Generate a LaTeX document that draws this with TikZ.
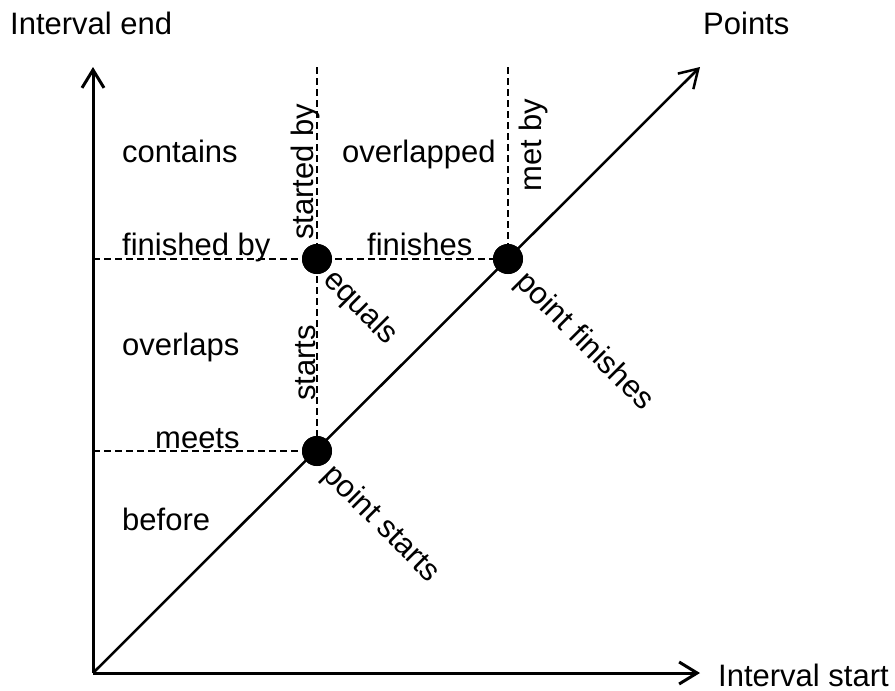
\documentclass[tikz,border=0pt]{standalone}
\usepackage{fontspec}
\setmainfont{Liberation Sans}
\usetikzlibrary{arrows.meta}
\begin{document}
\begin{tikzpicture}[x=1pt,y=-1pt,
  lbl/.style={inner sep=0pt, font=\fontsize{31}{37}\selectfont},
  axisline/.style={line width=3pt, -{Straight Barb[length=18pt,width=22pt]}},
  diagline/.style={line width=2.5pt, -{Straight Barb[length=18pt,width=22pt]}},
  guide/.style={line width=2pt, dash pattern=on 7pt off 4pt},
  dotnode/.style={circle, fill=black, minimum size=30pt, inner sep=0pt}]
\useasboundingbox (0,0) rectangle (895,691);
% coordinates
\coordinate (O) at (93,673);
\coordinate (Ytip) at (93,67);
\coordinate (Xtip) at (700,673);
\coordinate (Dtip) at (700,67);
\coordinate (Lhi) at (93,259);
\coordinate (Llo) at (93,451);
\coordinate (Tl) at (317,67);
\coordinate (Tr) at (508,67);
% dots
\node[dotnode] (eq) at (317,259) {};
\node[dotnode] (pf) at (508,259) {};
\node[dotnode] (ps) at (317,451) {};
% guides
\draw[guide] (Lhi) -- (eq.center) -- (pf.center);
\draw[guide] (Llo) -- (ps.center);
\draw[guide] (Tl) -- (eq.center) -- (ps.center);
\draw[guide] (Tr) -- (pf.center);
% axes
\draw[axisline] (O) -- (Ytip);
\draw[axisline] (O) -- (Xtip);
\draw[diagline] (O) -- (Dtip);
% redraw dots on top
\node[dotnode] at (eq) {};
\node[dotnode] at (pf) {};
\node[dotnode] at (ps) {};
% labels
\node[lbl, anchor=base west] (tye) at (10,34) {Interval end};
\node[lbl, anchor=base west] (tpt) at (703,34) {Points};
\node[lbl, anchor=base west] (txs) at (718,686) {Interval start};
\node[lbl, anchor=base west] (tcon) at (122,162) {contains};
\node[lbl, anchor=base west] (tovd) at (342,162) {overlapped};
\node[lbl, anchor=base west] (tfby) at (122,255) {finished by};
\node[lbl, anchor=base west] (tfin) at (367,255) {finishes};
\node[lbl, anchor=base west] (tovs) at (122,355) {overlaps};
\node[lbl, anchor=base west] (tmee) at (155,448) {meets};
\node[lbl, anchor=base west] (tbef) at (122,530) {before};
\node[lbl, anchor=base west, rotate=90] (tsby) at (313,240) {started by};
\node[lbl, anchor=base west, rotate=90] (tmby) at (541,192) {met by};
\node[lbl, anchor=base west, rotate=90] (tsta) at (315,401) {starts};
\node[lbl, rotate=-45] (tequ) at (360,308) {equals};
\node[lbl, rotate=-45] (tpf) at (584,342) {point finishes};
\node[lbl, rotate=-45] (tps) at (381,524) {point starts};
\end{tikzpicture}
\end{document}
